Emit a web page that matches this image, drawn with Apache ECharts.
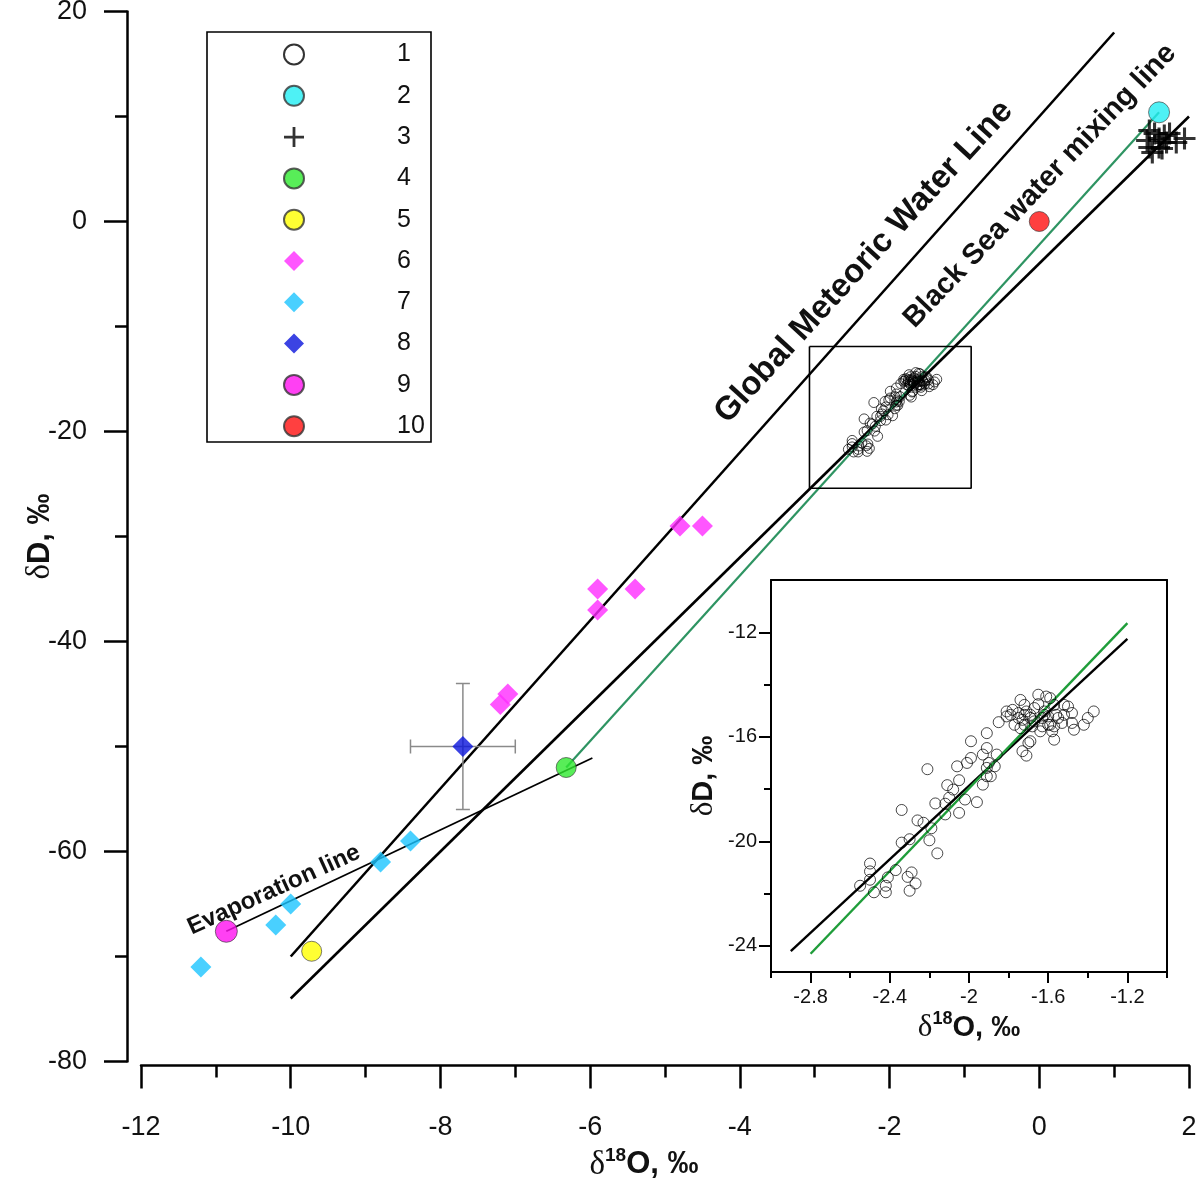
<!DOCTYPE html>
<html><head><meta charset="utf-8">
<script src="https://cdn.jsdelivr.net/npm/echarts@6/dist/echarts.min.js"></script>
<style>html,body{margin:0;padding:0;background:#fff}#c{width:1200px;height:1178px}</style>
</head><body><div id="c"></div>
<script>
// ---------- data ----------
const clusterPts = [[-2.55,-21.70],[-2.50,-20.85],[-2.50,-21.15],[-2.50,-21.47],[-2.48,-21.95],[-2.42,-21.95],[-2.42,-21.70],[-2.41,-21.38],[-2.37,-21.10],[-2.31,-21.36],[-2.29,-21.19],[-2.27,-21.61],[-2.30,-21.89],[-2.34,-20.05],[-2.30,-19.92],[-2.34,-18.80],[-2.26,-19.20],[-2.23,-19.29],[-2.21,-17.24],[-2.19,-19.50],[-2.20,-19.96],[-2.16,-20.46],[-2.17,-18.55],[-2.12,-18.56],[-2.12,-18.97],[-2.11,-17.85],[-2.08,-18.02],[-2.10,-18.33],[-2.06,-17.13],[-2.05,-17.66],[-2.05,-18.91],[-2.02,-18.40],[-2.01,-17.00],[-1.99,-16.17],[-1.99,-16.81],[-1.96,-18.50],[-1.93,-16.68],[-1.93,-17.83],[-1.91,-15.86],[-1.91,-16.43],[-1.90,-17.00],[-1.91,-17.19],[-1.91,-17.51],[-1.89,-17.51],[-1.86,-16.68],[-1.87,-17.13],[-1.85,-15.44],[-1.81,-15.03],[-1.79,-15.16],[-1.75,-15.09],[-1.74,-14.59],[-1.77,-15.54],[-1.74,-15.67],[-1.73,-16.55],[-1.71,-16.72],[-1.70,-16.24],[-1.69,-16.17],[-1.72,-15.16],[-1.71,-15.03],[-1.69,-15.16],[-1.67,-15.41],[-1.65,-14.39],[-1.65,-14.75],[-1.63,-15.60],[-1.61,-14.46],[-1.59,-14.52],[-1.57,-14.78],[-1.56,-15.16],[-1.57,-16.11],[-1.59,-15.54],[-1.55,-15.28],[-1.53,-15.47],[-1.52,-14.78],[-1.50,-14.84],[-1.48,-15.09],[-1.48,-15.47],[-1.47,-15.73],[-1.42,-15.54],[-1.40,-15.28],[-1.37,-15.03],[-1.62,-15.16],[-1.67,-14.90],[-1.69,-15.28],[-1.63,-15.28],[-1.60,-15.22],[-1.64,-15.79],[-1.58,-15.79],[-1.68,-15.60],[-1.72,-15.54],[-1.75,-15.28],[-1.81,-15.22],[-1.78,-14.97],[-1.72,-14.78],[-1.62,-15.03],[-1.60,-15.54],[-1.57,-15.60],[-1.52,-15.16],[-1.73,-15.35]];
const cyanPts = [[1.6, 10.4]];
const crossPts = [[1.47,8.67],[1.54,8.38],[1.60,7.90],[1.67,8.19],[1.74,8.38],[1.47,7.05],[1.51,6.57],[1.60,7.05],[1.70,7.52],[1.83,7.52],[1.94,7.90],[1.44,7.71],[1.64,6.95]];
const greenPts = [[-6.32, -52]];
const yellowPts = [[-9.72, -69.5]];
const magentaDiamonds = [[-7.2,-46],[-7.1,-45],[-5.9,-35],[-5.9,-37],[-5.4,-35],[-4.8,-29],[-4.5,-29]];
const skyDiamonds = [[-11.2,-71],[-10.2,-67],[-10.0,-65],[-8.8,-61],[-8.4,-59]];
const navyDiamonds = [[-7.7, -50]];
const navyErrors = [[-7.7, -50, 0.7, 6]];   // x, y, x error, y error
const magentaCircles = [[-10.86, -67.6]];
const redPts = [[0, 0]];

const gmwlLine = [[-10,-70],[1,18]];
const mixingLine = [[-10,-74],[2,10]];
const greenLine = [[-6.32,-52],[1.6,10.4]];
const evapLine = [[-10.86,-67.6],[-5.97,-51.1]];
const zoomBox = [[-3.07,-11.9],[-0.91,-11.9],[-0.91,-25.4],[-3.07,-25.4],[-3.07,-11.9]];
const insetBlackLine = [[-2.9,-24.2],[-1.2,-12.25]];
const insetGreenLine = [[-2.8,-24.3],[-1.2,-11.65]];

const legendNames = ['1','2','3','4','5','6','7','8','9','10'];
const insetXMajor = [-2.8,-2.4,-2,-1.6,-1.2];
const insetYMajor = [-24,-20,-16,-12];
const insetYMinor = [-22,-18,-14];

// ---------- chart ----------
const F = 'Liberation Sans, Arial, sans-serif';
const SER = 'Liberation Serif, Times New Roman, serif';
const richName = (big, sup) => ({
  d: {fontFamily: SER, fontSize: big + 2, color: '#111', lineHeight: big + 6},
  s: {fontFamily: F, fontWeight: 'bold', fontSize: sup, color: '#111', verticalAlign: 'top', lineHeight: big + 6},
  b: {fontFamily: F, fontWeight: 'bold', fontSize: big, color: '#111', lineHeight: big + 6}
});
const cross = 'path://M43,0H57V43H100V57H57V100H43V57H0V43H43Z';
const circStyle = c => ({color: c, borderColor: '#333', borderWidth: 0.8});
const blk = {color: '#000', width: 2.5};

const chart = echarts.init(document.getElementById('c'), null, {renderer: 'canvas'});
chart.setOption({
  animation: false,
  backgroundColor: '#fff',
  grid: [
    {left: 141, top: 11.5, width: 1048, height: 1050, outerBoundsMode: 'none'},
    {left: 771, top: 580, width: 396, height: 392, outerBoundsMode: 'none'}
  ],
  xAxis: [
    {gridIndex: 0, type: 'value', min: -12, max: 2, interval: 2, position: 'bottom', offset: 4,
     axisLine: {onZero: false, lineStyle: blk},
     axisTick: {length: 23, lineStyle: blk},
     minorTick: {show: true, splitNumber: 2, length: 12, lineStyle: blk},
     splitLine: {show: false}, minorSplitLine: {show: false},
     axisLabel: {margin: 49, fontSize: 27, color: '#111', fontFamily: F},
     name: '{d|δ}{s|18}{b|O, ‰}', nameLocation: 'middle', nameGap: 78,
     nameTextStyle: {padding: [0, 42, 0, 0], rich: richName(31, 19)}},
    {gridIndex: 1, type: 'value', min: -3, max: -1, position: 'bottom',
     axisLine: {onZero: false, lineStyle: {color: '#000', width: 2}},
     axisTick: {length: 11, customValues: insetXMajor, lineStyle: {color: '#000', width: 2}},
     splitLine: {show: false},
     axisLabel: {customValues: insetXMajor, margin: 15, fontSize: 20, color: '#111', fontFamily: F},
     name: '{d|δ}{s|18}{b|O, ‰}', nameLocation: 'middle', nameGap: 38,
     nameTextStyle: {rich: richName(29, 18)}},
    {gridIndex: 1, type: 'value', min: -3, max: -1, interval: 0.2, position: 'bottom',
     axisLine: {show: false}, axisTick: {length: 6, lineStyle: {color: '#000', width: 2}},
     splitLine: {show: false}, axisLabel: {show: false}},
    {gridIndex: 1, type: 'value', min: -3, max: -1, position: 'top',
     axisLine: {onZero: false, lineStyle: {color: '#000', width: 2}},
     axisTick: {show: false}, axisLabel: {show: false}, splitLine: {show: false}}
  ],
  yAxis: [
    {gridIndex: 0, type: 'value', min: -80, max: 20, interval: 20, position: 'left', offset: 14,
     axisLine: {onZero: false, lineStyle: blk},
     axisTick: {length: 23, lineStyle: blk},
     minorTick: {show: true, splitNumber: 2, length: 12, lineStyle: blk},
     splitLine: {show: false}, minorSplitLine: {show: false},
     axisLabel: {margin: 40, fontSize: 27, color: '#111', fontFamily: F},
     name: '{d|δ}{b|D, ‰}', nameLocation: 'middle', nameGap: 68, nameRotate: 90, nameMoveOverlap: false,
     nameTextStyle: {rich: richName(31, 19)}},
    {gridIndex: 1, type: 'value', min: -25, max: -10, position: 'left',
     axisLine: {onZero: false, lineStyle: {color: '#000', width: 2}},
     axisTick: {length: 12, customValues: insetYMajor, lineStyle: {color: '#000', width: 2}},
     splitLine: {show: false},
     axisLabel: {customValues: insetYMajor, margin: 14, fontSize: 20, color: '#111', fontFamily: F},
     name: '{d|δ}{b|D, ‰}', nameLocation: 'middle', nameGap: 50, nameRotate: 90, nameMoveOverlap: false,
     nameTextStyle: {rich: richName(29, 18)}},
    {gridIndex: 1, type: 'value', min: -25, max: -10, position: 'left',
     axisLine: {show: false},
     axisTick: {length: 7, customValues: insetYMinor, lineStyle: {color: '#000', width: 2}},
     splitLine: {show: false}, axisLabel: {show: false}},
    {gridIndex: 1, type: 'value', min: -25, max: -10, position: 'right',
     axisLine: {onZero: false, lineStyle: {color: '#000', width: 2}},
     axisTick: {show: false}, axisLabel: {show: false}, splitLine: {show: false}}
  ],
  legend: {
    data: legendNames, orient: 'vertical', left: 283, top: 42, padding: 0,
    itemWidth: 20, itemHeight: 20, itemGap: 16.3, selectedMode: false,
    formatter: n => '{n|' + n + '}',
    textStyle: {rich: {n: {fontSize: 25, fontFamily: F, color: '#111', padding: [0, 0, 0, 88], lineHeight: 20}}}
  },
  graphic: [
    {type: 'rect', z: 0, shape: {x: 207, y: 32, width: 224, height: 410},
     style: {fill: '#fff', stroke: '#000', lineWidth: 1.6}},
    {type: 'text', x: 864, y: 262, rotation: 47.5 * Math.PI / 180, z: 10,
     style: {text: 'Global Meteoric Water Line', fontFamily: F, fontWeight: 'bold', fontSize: 33, fill: '#111', align: 'center', verticalAlign: 'middle'}},
    {type: 'text', x: 1040, y: 186, rotation: 46.3 * Math.PI / 180, z: 10,
     style: {text: 'Black Sea water mixing line', fontFamily: F, fontWeight: 'bold', fontSize: 29, fill: '#111', align: 'center', verticalAlign: 'middle'}},
    {type: 'text', x: 274, y: 890, rotation: 24.5 * Math.PI / 180, z: 10,
     style: {text: 'Evaporation line', fontFamily: F, fontWeight: 'bold', fontSize: 24, fill: '#111', align: 'center', verticalAlign: 'middle'}}
  ],
  series: [
    {type: 'line', name: 'GMWL', data: gmwlLine, symbol: 'none', silent: true, z: 2, lineStyle: {color: '#000', width: 2.6}},
    {type: 'line', name: 'mix', data: mixingLine, symbol: 'none', silent: true, z: 2, clip: false, lineStyle: {color: '#000', width: 2.6}},
    {type: 'line', name: 'green', data: greenLine, symbol: 'none', silent: true, z: 2, lineStyle: {color: '#2e9462', width: 2.2}},
    {type: 'line', name: 'evap', data: evapLine, symbol: 'none', silent: true, z: 2, lineStyle: {color: '#000', width: 1.8}},
    {type: 'line', name: 'box', data: zoomBox, symbol: 'none', silent: true, z: 2, lineStyle: {color: '#000', width: 1.6}},
    {type: 'custom', name: 'err', data: navyErrors, z: 3, silent: true, encode: {x: 0, y: 1},
     renderItem: function (params, api) {
       const x = api.value(0), y = api.value(1), ex = api.value(2), ey = api.value(3);
       const l = api.coord([x - ex, y]), r = api.coord([x + ex, y]);
       const t = api.coord([x, y + ey]), b = api.coord([x, y - ey]);
       const c = 7, st = {stroke: '#8a8a8a', lineWidth: 1.5};
       const ln = (x1, y1, x2, y2) => ({type: 'line', shape: {x1, y1, x2, y2}, style: st});
       return {type: 'group', children: [
         ln(l[0], l[1], r[0], r[1]), ln(l[0], l[1] - c, l[0], l[1] + c), ln(r[0], r[1] - c, r[0], r[1] + c),
         ln(t[0], t[1], b[0], b[1]), ln(t[0] - c, t[1], t[0] + c, t[1]), ln(b[0] - c, b[1], b[0] + c, b[1])
       ]};
     }},
    {type: 'scatter', name: '1', data: clusterPts, symbol: 'circle', symbolSize: 10, z: 4,
     itemStyle: {color: 'rgba(255,255,255,0)', borderColor: '#000', borderWidth: 0.9}},
    {type: 'scatter', name: '2', data: cyanPts, symbol: 'circle', symbolSize: 21, z: 5, itemStyle: circStyle('#22eef2')},
    {type: 'scatter', name: '3', data: crossPts, symbol: cross, symbolSize: 22, z: 5, clip: false, itemStyle: {color: '#000'}},
    {type: 'scatter', name: '4', data: greenPts, symbol: 'circle', symbolSize: 20, z: 5, itemStyle: circStyle('#2ee82e')},
    {type: 'scatter', name: '5', data: yellowPts, symbol: 'circle', symbolSize: 20, z: 5, itemStyle: circStyle('#ffff00')},
    {type: 'scatter', name: '6', data: magentaDiamonds, symbol: 'diamond', symbolSize: 21, z: 5, itemStyle: {color: '#ff2cff'}},
    {type: 'scatter', name: '7', data: skyDiamonds, symbol: 'diamond', symbolSize: 21, z: 5, itemStyle: {color: '#1cc4ff'}},
    {type: 'scatter', name: '8', data: navyDiamonds, symbol: 'diamond', symbolSize: 21, z: 5, itemStyle: {color: '#0a14dc'}},
    {type: 'scatter', name: '9', data: magentaCircles, symbol: 'circle', symbolSize: 22, z: 5, itemStyle: circStyle('#ff10f0')},
    {type: 'scatter', name: '10', data: redPts, symbol: 'circle', symbolSize: 20, z: 5, itemStyle: circStyle('#ff1010')},
    // inset
    {type: 'line', name: 'insetBlack', xAxisIndex: 1, yAxisIndex: 1, data: insetBlackLine, symbol: 'none', silent: true, z: 3, lineStyle: {color: '#000', width: 2.4}},
    {type: 'line', name: 'insetGreen', xAxisIndex: 1, yAxisIndex: 1, data: insetGreenLine, symbol: 'none', silent: true, z: 3, lineStyle: {color: '#1f9d3a', width: 2.4}},
    {type: 'scatter', name: '1', xAxisIndex: 1, yAxisIndex: 1, data: clusterPts, symbol: 'circle', symbolSize: 11, z: 4,
     itemStyle: {color: 'rgba(255,255,255,0)', borderColor: '#000', borderWidth: 0.9}}
  ]
});
</script>
</body></html>
